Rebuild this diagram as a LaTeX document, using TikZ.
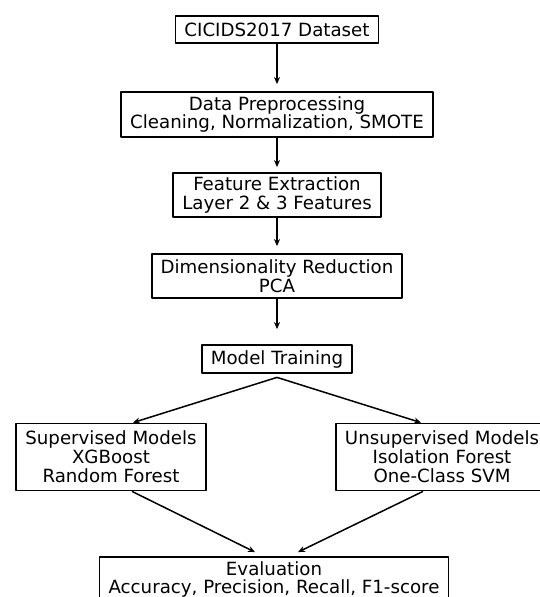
\documentclass[tikz,border=0pt]{standalone}
\usepackage{fontspec}
\setmainfont{DejaVu Sans}
\usetikzlibrary{calc,arrows.meta,positioning}

\tikzset{
  stage/.style={draw, line width=1.8bp, align=center, inner xsep=9bp, inner ysep=0bp,
    font=\fontsize{18.2bp}{18.8bp}\selectfont},
}

\begin{document}
\begin{tikzpicture}[x=1bp, y=-1bp, >={Stealth[length=7bp, width=6bp]}, line join=round]
    \useasboundingbox (0,0) rectangle (540,597);
    \clip (0,0) rectangle (540,597);
    \node[stage, minimum height=27bp] (ds) at (277, 29.5) {CICIDS2017 Dataset};
    \node[stage, minimum height=45bp] (prep) at (277, 114.5) {Data Preprocessing\\Cleaning, Normalization, SMOTE};
    \node[stage, minimum height=44bp] (feat) at (277, 195) {Feature Extraction\\Layer 2 \& 3 Features};
    \node[stage, minimum height=44bp] (dim) at (277, 276) {Dimensionality Reduction\\PCA};
    \node[stage, minimum height=28bp] (train) at (277, 359) {Model Training};
    \node[stage, minimum height=67bp] (sup) at (111, 457) {Supervised Models\\XGBoost\\Random Forest};
    \node[stage, minimum height=67bp] (unsup) at (442, 457) {Unsupervised Models\\Isolation Forest\\One-Class SVM};
    \node[stage, minimum height=45bp] (eval) at (274, 579.5) {Evaluation\\Accuracy, Precision, Recall, F1-score};
    \begin{scope}[line width=1.5bp]
      \draw[->, shorten >=7bp] (ds) -- (prep);
      \draw[->, shorten >=5bp] (prep) -- (feat);
      \draw[->, shorten >=7bp] (feat) -- (dim);
      \draw[->, shorten >=15bp] (dim) -- (train);
      \draw[->] ($(train.south)+(0,3.5)$) -- ($(sup.north)+(22,0)$);
      \draw[->] ($(train.south)+(0,3.5)$) -- ($(unsup.north)+(-21,0)$);
      \draw[->] ($(sup.south)+(21,0)$) -- ($(eval.north)+(-19,-4)$);
      \draw[->] ($(unsup.south)+(-19,0)$) -- ($(eval.north)+(24,-4)$);
    \end{scope}
  \end{tikzpicture}
\end{document}
